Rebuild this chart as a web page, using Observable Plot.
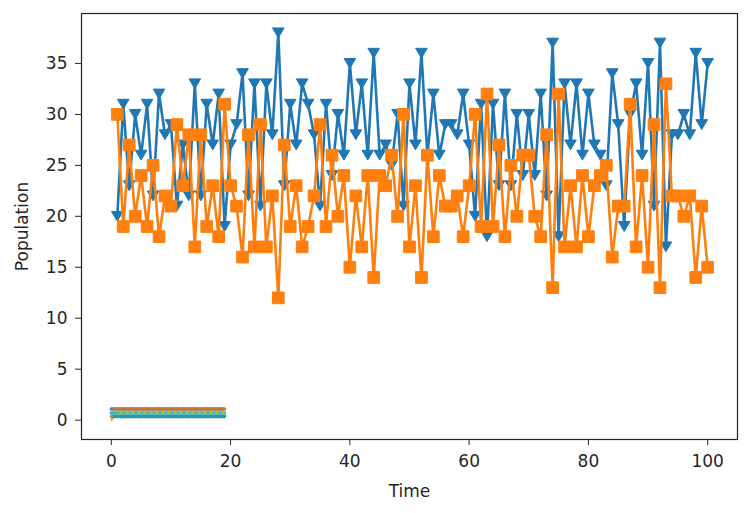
<!DOCTYPE html>
<html><head><meta charset="utf-8">
<script src="https://cdn.jsdelivr.net/npm/d3@7"></script>
<script src="https://cdn.jsdelivr.net/npm/@observablehq/plot@0.6"></script>
<style>html,body{margin:0;padding:0;background:#fff}svg{display:block}</style>
</head><body><div id="chart"></div>
<script>
// ---- data ----
const time = [1,2,3,4,5,6,7,8,9,10,11,12,13,14,15,16,17,18,19,20,21,22,23,24,25,26,27,28,29,30,
  31,32,33,34,35,36,37,38,39,40,41,42,43,44,45,46,47,48,49,50,51,52,53,54,55,56,57,58,59,60,
  61,62,63,64,65,66,67,68,69,70,71,72,73,74,75,76,77,78,79,80,81,82,83,84,85,86,87,88,89,90,
  91,92,93,94,95,96,97,98,99,100];
const seriesBlue = [20,31,23,30,26,31,22,32,28,29,21,27,22,33,22,31,27,32,19,27,
  29,34,22,33,21,33,28,38,23,31,27,33,31,28,21,31,24,30,26,35,
  28,33,26,36,26,27,25,30,21,33,27,36,26,32,26,29,29,28,32,27,
  20,31,18,31,23,32,23,30,24,30,24,32,22,37,18,33,27,33,26,32,
  27,26,23,34,29,19,30,33,26,35,21,37,17,28,28,30,28,36,29,35];
const seriesOrange = [30,19,27,20,24,19,25,18,22,21,29,23,28,17,28,19,23,18,31,23,
  21,16,28,17,29,17,22,12,27,19,23,17,19,22,29,19,26,20,24,15,
  22,17,24,14,24,23,26,20,30,17,23,14,26,18,24,21,21,22,18,23,
  30,19,32,19,27,18,25,20,26,26,20,18,28,13,32,17,23,17,24,18,
  23,24,25,16,21,21,31,17,24,15,29,13,33,22,22,20,22,14,21,15];
const smallTime = [0,1,2,3,4,5,6,7,8,9,10,11,12,13,14,15,16,17,18,19];
const smallHigh = [1.1,1.1,1.1,1.1,1.1,1.1,1.1,1.1,1.1,1.1,1.1,1.1,1.1,1.1,1.1,1.1,1.1,1.1,1.1,1.1];
const smallMid = [0.7,0.7,0.7,0.7,0.7,0.7,0.7,0.7,0.7,0.7,0.7,0.7,0.7,0.7,0.7,0.7,0.7,0.7,0.7,0.7];
const smallMidB = [0,0.7,0.7,0.7,0.7,0.7,0.7,0.7,0.7,0.7,0.7,0.7,0.7,0.7,0.7,0.7,0.7,0.7,0.7,0.7];
const smallLow = [0.35,0.35,0.35,0.35,0.35,0.35,0.35,0.35,0.35,0.35,0.35,0.35,0.35,0.35,0.35,0.35,0.35,0.35,0.35,0.35];
const xTicks = [0,20,40,60,80,100];
const yTicks = [0,5,10,15,20,25,30,35];

// ---- build tables ----
const blueData = time.map((t, i) => ({t, v: seriesBlue[i]}));
const orangeData = time.map((t, i) => ({t, v: seriesOrange[i]}));
const mk = arr => smallTime.map((t, i) => ({t, v: arr[i]}));

const triangleDown = {
  draw(ctx, size) {
    const r = Math.sqrt(size / Math.PI);
    ctx.moveTo(-r, -r * 0.85);
    ctx.lineTo(r, -r * 0.85);
    ctx.lineTo(0, r * 0.85);
    ctx.closePath();
  }
};

const blue = "#1f77b4", orange = "#ff7f0e";

const chart = Plot.plot({
  width: 747, height: 513,
  marginLeft: 81, marginRight: 10, marginTop: 13, marginBottom: 74,
  x: {domain: [-5, 105]},
  y: {domain: [-1.9, 39.9]},
  style: {fontFamily: "DejaVu Sans", fontSize: "17px", color: "#262626", background: "#fff"},
  marks: [
    Plot.axisX({ticks: xTicks, tickSize: 6, tickPadding: 9, label: "Time", labelAnchor: "center", labelArrow: "none", labelOffset: 57}),
    Plot.axisY({ticks: yTicks, tickSize: 6, tickPadding: 8, label: "Population", labelAnchor: "center", labelArrow: "none", labelOffset: 66}),
    Plot.line(blueData, {x: "t", y: "v", stroke: blue, strokeWidth: 2.6}),
    Plot.dot(blueData, {x: "t", y: "v", symbol: triangleDown, r: 5.8, fill: blue, stroke: blue, strokeWidth: 1}),
    Plot.line(orangeData, {x: "t", y: "v", stroke: orange, strokeWidth: 2.6}),
    Plot.dot(orangeData, {x: "t", y: "v", symbol: "square", r: 6.6, fill: orange, stroke: orange, strokeWidth: 1}),
    Plot.line(mk(smallHigh), {x: "t", y: "v", stroke: "#4a8ab0", strokeWidth: 3.5, strokeDasharray: "3,3"}),
    Plot.line(mk(smallHigh), {x: "t", y: "v", stroke: "#c8763a", strokeWidth: 3.5, strokeDasharray: "3,3", strokeDashoffset: 3}),
    Plot.line(mk(smallMid), {x: "t", y: "v", stroke: "#17becf", strokeWidth: 3.5}),
    Plot.line(mk(smallMidB), {x: "t", y: "v", stroke: "#bcbd22", strokeWidth: 2, strokeDasharray: "2,4"}),
    Plot.line(mk(smallLow), {x: "t", y: "v", stroke: "#e07b2a", strokeWidth: 3.5, strokeDasharray: "3,3"}),
    Plot.line(mk(smallLow), {x: "t", y: "v", stroke: "#1f9bb4", strokeWidth: 3.5, strokeDasharray: "3,3", strokeDashoffset: 3}),
    Plot.frame({stroke: "#222", strokeWidth: 1.2})
  ]
});
document.getElementById("chart").appendChild(chart);
</script>
</body></html>
